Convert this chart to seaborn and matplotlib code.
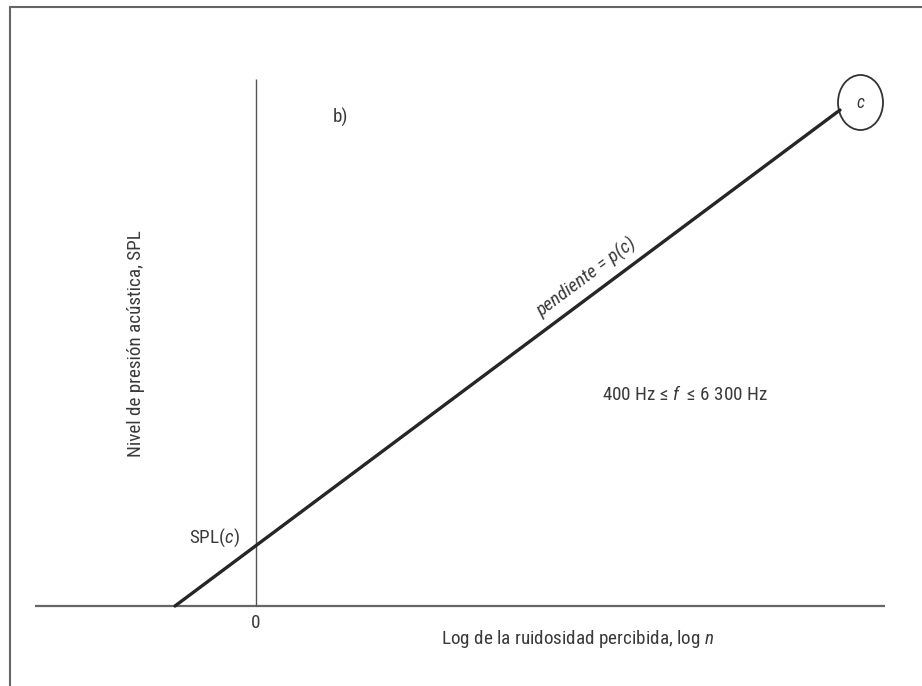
import matplotlib
matplotlib.use("Agg")
import matplotlib.pyplot as plt
from matplotlib.patches import Ellipse
from matplotlib.lines import Line2D
from matplotlib import font_manager as fm
import numpy as np
import pandas as pd
import seaborn as sns

# ---- data (arbitrary units) ----
line_x = [-0.81, 5.84]          # log n at the two ends of the straight line
line_y = [0.0, 4.96]            # SPL at the two ends
x_axis_span = [-2.21, 6.29]     # extent of horizontal axis
y_axis_span = [0.0, 5.27]       # extent of vertical axis
circle_center = [6.045, 5.035]
x_tick_labels = ["0"]
x_label = "Log de la ruidosidad percibida, log $\\it{n}$"
y_label = "Nivel de presión acústica, SPL"
panel_label = "b)"
slope_label = "pendiente = p(c)"
range_label = "400 Hz ≤ $\\it{f}$  ≤ 6 300 Hz"
intercept_label = "SPL($\\it{c}$)"
circle_label = "c"

sns.set_theme(style="white")
cands = ['Liberation Sans Narrow', 'Arial Narrow', 'Roboto Condensed', 'Archivo Narrow',
         'PT Sans Narrow', 'Roboto']
avail = set(f.name for f in fm.fontManager.ttflist)
main_font = next((c for c in cands if c in avail), 'DejaVu Sans')
plt.rcParams['font.family'] = [main_font, 'DejaVu Sans']
plt.rcParams['mathtext.fontset'] = 'custom'
plt.rcParams['mathtext.it'] = main_font + ':italic'
plt.rcParams['mathtext.rm'] = main_font

fig = plt.figure(figsize=(9.22, 6.86), dpi=100)
ax = fig.add_axes([0, 0, 1, 1])
ax.set_xlim(-2.56, 6.66)
ax.set_ylim(-0.80, 6.06)
ax.axis("off")

txt = "#3a3a3a"
fs = 13.8

# frame (left and top border)
fig.add_artist(Line2D([10/922, 10/922], [0, 1 - 7/686], transform=fig.transFigure,
                      color="#666666", lw=1.5))
fig.add_artist(Line2D([10/922, 1], [1 - 7/686, 1 - 7/686], transform=fig.transFigure,
                      color="#666666", lw=1.5))

# axes lines
ax.plot(x_axis_span, [0, 0], color="#666666", lw=1.6, solid_capstyle="butt")
ax.plot([0, 0], y_axis_span, color="#555555", lw=1.0, solid_capstyle="butt")

# main line via seaborn
df = pd.DataFrame({"x": line_x, "y": line_y})
sns.lineplot(data=df, x="x", y="y", ax=ax, color="#262626", lw=2.4)

# circle marker with label
ax.add_patch(Ellipse(circle_center, 0.45, 0.55, fill=False, edgecolor="#333333", lw=1.3))
ax.text(circle_center[0], circle_center[1], circle_label, style="italic", color=txt,
        fontsize=fs - 1, ha="center", va="center")

# slope label rotated along line
p0 = ax.transData.transform((line_x[0], line_y[0]))
p1 = ax.transData.transform((line_x[1], line_y[1]))
ang = np.degrees(np.arctan2(p1[1] - p0[1], p1[0] - p0[0]))
ax.text(3.31, 3.28, slope_label, style="italic", color=txt, fontsize=fs,
        rotation=ang, rotation_mode="anchor", ha="center", va="center")

ax.text(4.29, 2.11, range_label, color=txt, fontsize=fs, ha="center", va="center")
ax.text(-0.16, 0.68, intercept_label, color=txt, fontsize=fs, ha="right", va="center")
ax.text(0.0, -0.175, x_tick_labels[0], color=txt, fontsize=fs, ha="center", va="center")
ax.text(3.22, -0.33, x_label, color=txt, fontsize=fs, ha="center", va="center")
ax.text(-1.20, 2.62, y_label, color=txt, fontsize=fs, ha="center", va="center", rotation=90)
ax.text(0.84, 4.89, panel_label, color=txt, fontsize=fs, ha="center", va="center")

fig.savefig("out.png", dpi=100, facecolor="white")
